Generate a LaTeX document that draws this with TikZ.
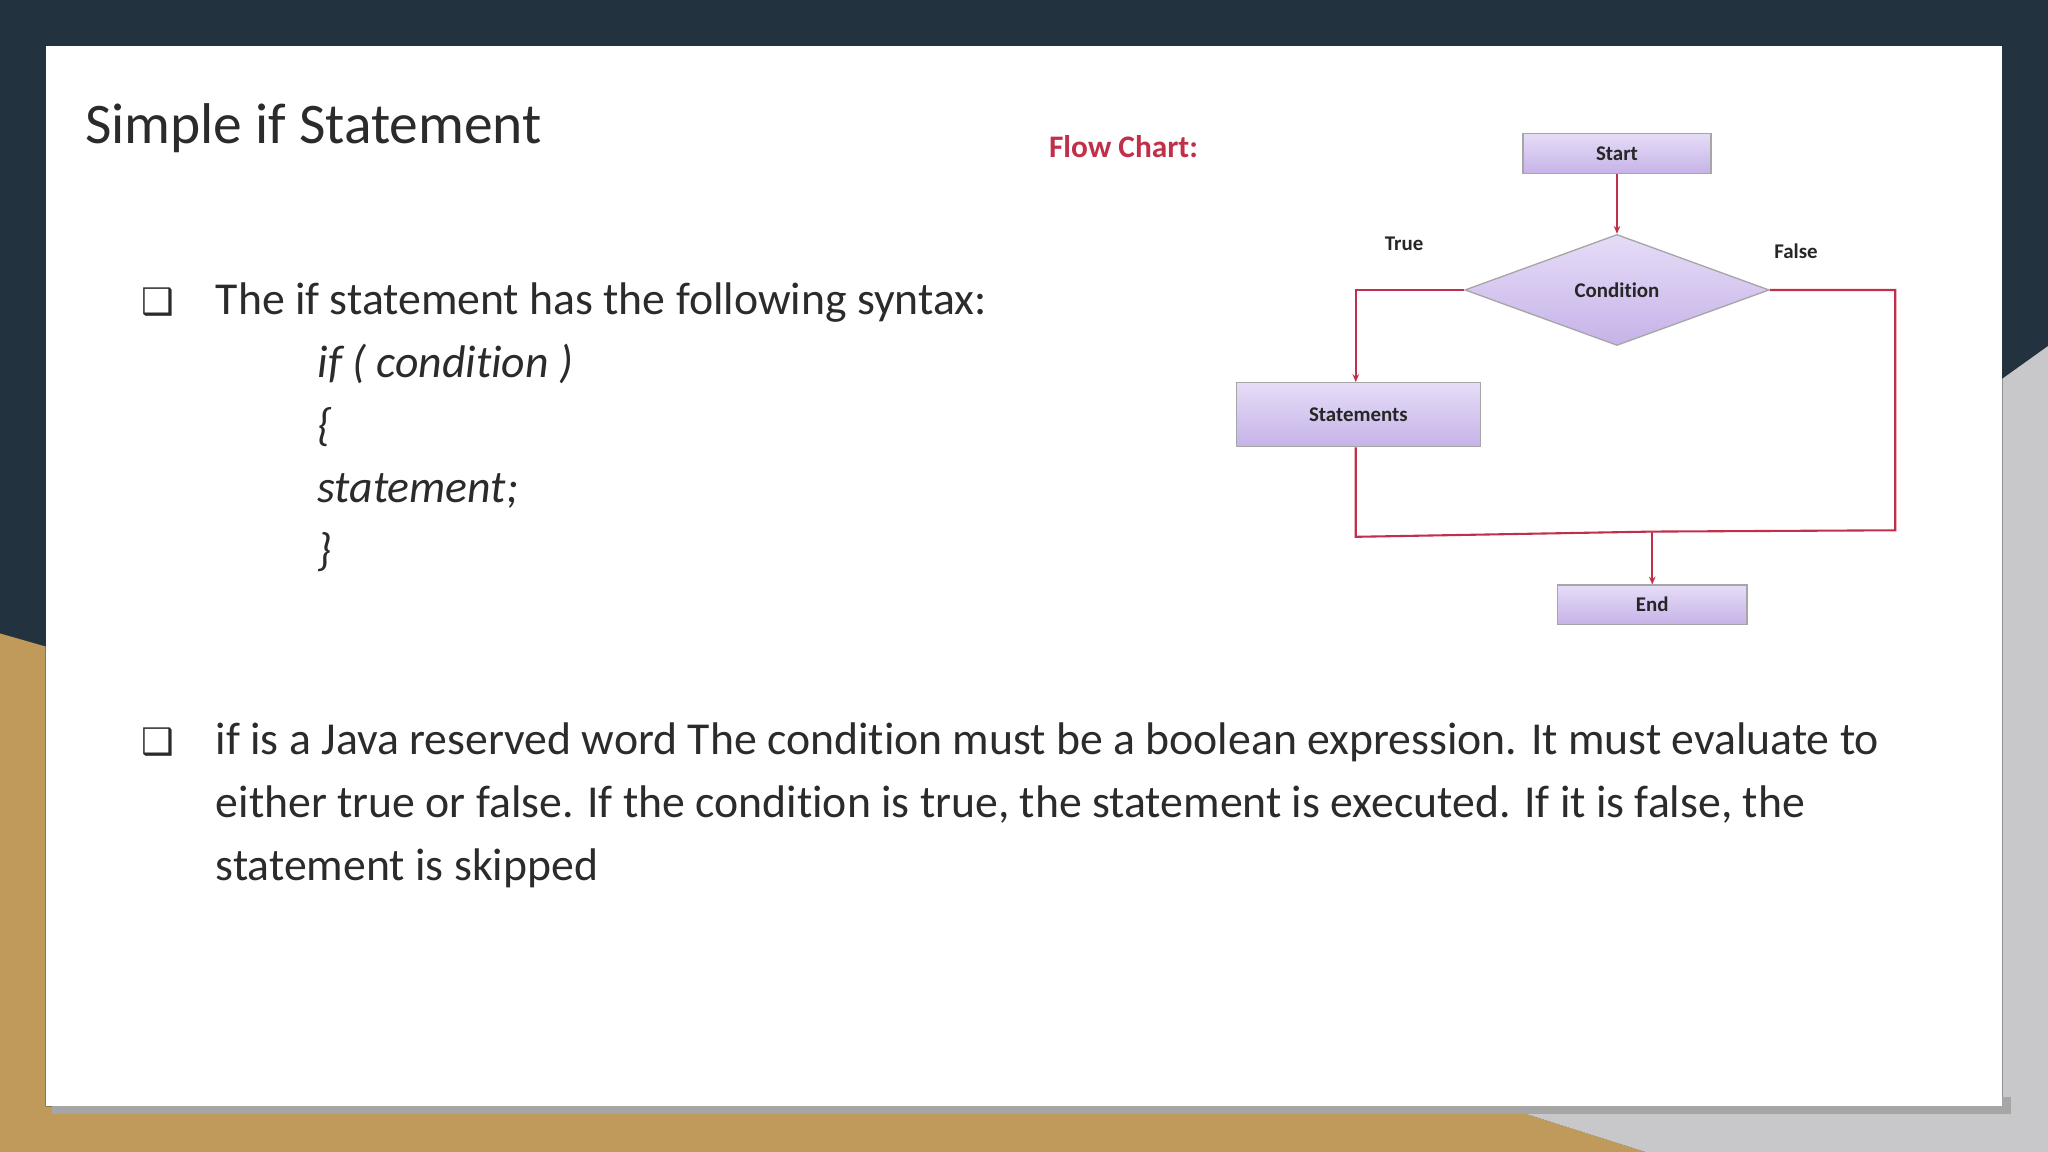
\documentclass[tikz,border=0pt]{standalone}
\usepackage{fontspec}
\setmainfont[RawFeature={-liga}]{Carlito}
\newfontfamily\symf{DejaVu Sans}
\usetikzlibrary{shapes.geometric,arrows.meta}
\definecolor{navy}{HTML}{22333F}
\definecolor{gold}{HTML}{C09A5A}
\definecolor{greyb}{HTML}{C8C8CA}
\definecolor{txt}{HTML}{2B2B2B}
\definecolor{fcred}{HTML}{C0304A}
\definecolor{lavtop}{HTML}{E6DCF7}
\definecolor{lavbot}{HTML}{C6B3E8}
\tikzset{
  fbox/.style={draw=gray!70, line width=1pt, top color=lavtop, bottom color=lavbot, font=\fontsize{16}{16}\selectfont\bfseries, text=black!85, inner sep=0pt},
  link/.style={draw=fcred, line width=1.6pt},
  arr/.style={link, -{Stealth[length=6pt,width=5pt]}},
  body/.style={anchor=base west, inner sep=0pt, font=\fontsize{35}{35}\selectfont, text=txt},
  code/.style={anchor=base west, inner sep=0pt, font=\fontsize{35}{35}\selectfont\itshape, text=txt},
  bul/.style={anchor=base west, inner sep=0pt, font=\fontsize{28}{28}\selectfont\symf, text=txt}
}
\begin{document}
\begin{tikzpicture}[x=1pt,y=-1pt]
\useasboundingbox (0,0) rectangle (1568,882);
\fill[navy] (0,0) rectangle (1568,882);
\fill[gold] (0,485) -- (35,495) -- (35,847) -- (1150,847) -- (1260,882) -- (0,882) -- cycle;
\fill[greyb] (1533,290) -- (1568,265) -- (1568,882) -- (1260,882) -- (1150,847) -- (1533,847) -- cycle;
\fill[black!35] (40,840) rectangle (1540,853);
\fill[white] (35,35) rectangle (1533,847);
\node[anchor=base west, inner sep=0pt, font=\fontsize{44}{44}\selectfont, text=txt] (title) at (65,110) {Simple if Statement};
\node[bul] (b1) at (108,241) {❑};
\node[body] (l1) at (165,241) {The if statement has the following syntax:};
\node[code] (c1) at (243,289) {if ( condition )};
\node[code] (c2) at (243,337) {\{};
\node[code] (c3) at (243,385) {statement;};
\node[code] (c4) at (243,433) {\}};
\node[bul] (b2) at (108,578) {❑};
\node[body] (m1) at (165,578) {if is a Java reserved word The condition must be a boolean expression. It must evaluate to};
\node[body] (m2) at (165,626) {either true or false. If the condition is true, the statement is executed. If it is false, the};
\node[body] (m3) at (165,674) {statement is skipped};
\node[anchor=west, inner sep=0pt, font=\fontsize{24}{24}\selectfont\bfseries, text=fcred] (fc) at (803,112) {Flow Chart:};
\node[fbox, minimum width=144pt, minimum height=31pt] (start) at (1238,117.5) {Start};
\node[diamond, aspect=2.75, fbox, minimum width=233pt, minimum height=85pt] (cond) at (1238,222) {Condition};
\node[fbox, minimum width=187pt, minimum height=49pt] (stm) at (1040,317.5) {Statements};
\node[fbox, minimum width=145pt, minimum height=30pt] (end) at (1265,463) {End};
\node[font=\fontsize{16}{16}\selectfont\bfseries, text=black!85] (tl) at (1075,187) {True};
\node[font=\fontsize{16}{16}\selectfont\bfseries, text=black!85] (fl) at (1375,192) {False};
\coordinate (j) at (1265,407);
\draw[arr] (start.south) -- (cond.north);
\draw[arr] (cond.west) -- (1038,222) -- (stm.north -| 1038,0);
\draw[link] (stm.south -| 1038,0) -- (1038,411) -- (j);
\draw[link] (cond.east) -- (1451,222) -- (1451,406) -- (j);
\draw[arr] (j) -- (end.north);
\end{tikzpicture}
\end{document}
